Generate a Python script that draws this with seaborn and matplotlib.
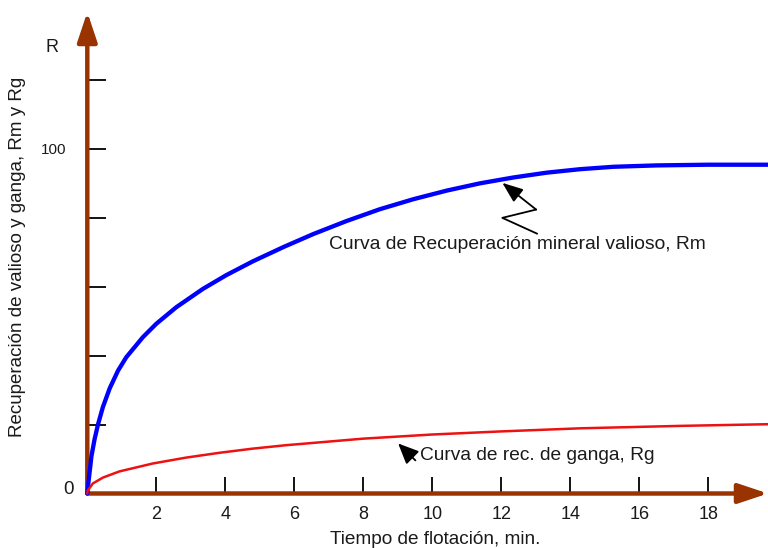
import numpy as np
import pandas as pd
import matplotlib
matplotlib.use("Agg")
import matplotlib.pyplot as plt
import seaborn as sns

# ---- data ----
t_rm = [0, 0.02, 0.12, 0.21, 0.31, 0.45, 0.65, 0.89, 1.13, 1.61, 2.0, 2.58, 3.35, 4.03, 4.8,
        5.7, 6.55, 7.52, 8.48, 9.45, 10.42, 11.38, 12.35, 13.32, 14.28, 15.25, 16.5, 18, 19.8]
rm   = [0, 2.1, 10.8, 15.7, 20, 25, 30.5, 35.6, 39.5, 45.3, 49.2, 54, 59.3, 63.3, 67.3,
        71.5, 75.2, 79.0, 82.4, 85.3, 87.8, 89.9, 91.6, 93.0, 94.0, 94.7, 95.1, 95.3, 95.3]
t_rg = [0, 0.01, 0.16, 0.45, 0.93, 1.9, 2.86, 3.83, 4.79, 5.76, 8, 10, 12, 14.3, 17.2, 19.8]
rg   = [0, 0.8, 2.9, 4.6, 6.4, 8.7, 10.4, 11.8, 13.0, 14.0, 15.9, 17.1, 18.0, 18.9, 19.6, 20.1]

x_ticks = [2, 4, 6, 8, 10, 12, 14, 16, 18]
y_ticks = [20, 40, 60, 80, 100, 120]
y_tick_labels = ["", "", "", "", "100", ""]

label_rm = "Curva de Recuperación mineral valioso, Rm"
label_rg = "Curva de rec. de ganga, Rg"
xlabel = "Tiempo de flotación, min."
ylabel = "Recuperación de valioso y ganga, Rm y Rg"

df_rm = pd.DataFrame({"t": t_rm, "R": rm})
df_rg = pd.DataFrame({"t": t_rg, "R": rg})

sns.set_theme(style="white")
plt.rcParams["font.family"] = ["Liberation Sans", "DejaVu Sans"]

W, H = 768, 548
fig = plt.figure(figsize=(W / 100, H / 100), dpi=100)
x0_px, y0_px, top_px = 87.3, 493.5, 12
ax = fig.add_axes([x0_px / W, (H - y0_px) / H, (W - x0_px) / W, (y0_px - top_px) / H])
ax.set_xlim(0, (W - x0_px) / 34.5)
ax.set_ylim(0, (y0_px - top_px) / 3.45)

brown = "#993300"
txt = "#1a1a1a"

sns.lineplot(data=df_rm, x="t", y="R", ax=ax, color="#0000ff", lw=3.1, legend=False, zorder=3)
sns.lineplot(data=df_rg, x="t", y="R", ax=ax, color="#ee1111", lw=1.8, legend=False, zorder=3)
for ln in ax.get_lines():
    ln.set_solid_joinstyle("round")
    ln.set_clip_on(False)

for s in ax.spines.values():
    s.set_visible(False)

# axis arrows
arrow_kw = dict(arrowstyle="-|>,head_length=0.9,head_width=0.3", lw=3.2, color=brown,
                shrinkA=0, shrinkB=0, mutation_scale=20)
ax.annotate("", xy=(0, 1), xytext=(0, 0), xycoords="axes fraction",
            arrowprops=arrow_kw, annotation_clip=False, zorder=2)
ax.annotate("", xy=(1, 0), xytext=(0, 0), xycoords="axes fraction",
            arrowprops=arrow_kw, annotation_clip=False, zorder=2)

ax.set_xticks(x_ticks)
ax.set_xticklabels([str(v) for v in x_ticks])
ax.set_yticks(y_ticks)
ax.set_yticklabels(y_tick_labels)
ax.tick_params(axis="x", direction="in", length=12, width=1.3, color="black", pad=9,
               labelsize=13, labelcolor=txt, bottom=True)
ax.tick_params(axis="y", direction="in", length=13.5, width=1.3, color="black", pad=15,
               labelsize=11, labelcolor=txt, left=True)
ax.set_xlabel("")
ax.set_ylabel("")

# axis texts
fig.text(68 / W, 1 - 489 / H, "0", fontsize=13.5, color=txt, ha="center", va="center")
fig.text(52 / W, 1 - 47 / H, "R", fontsize=13, color=txt, ha="center", va="center")
fig.text(435 / W, 1 - 540 / H, xlabel, fontsize=13.7, color=txt, ha="center", va="center")
fig.text(18 / W, 1 - 257 / H, ylabel, fontsize=13.5, color=txt, ha="center", va="center", rotation=90)

# annotations
tip_t = 12.03
tip_r = float(np.interp(tip_t, t_rm, rm))
ax.plot([13.04, 12.03, 13.01], [75.3, 79.9, 82.3], color="black", lw=1.3, zorder=4)
ax.annotate("", xy=(tip_t, tip_r - 1.0), xytext=(13.01, 82.3),
            arrowprops=dict(arrowstyle="-|>,head_length=0.9,head_width=0.35", lw=1.3, color="black",
                            shrinkA=0, shrinkB=0, mutation_scale=14), zorder=4)
ax.text(7.01, 72.1, label_rm, fontsize=13.9, color=txt, ha="left", va="center")

ax.annotate("", xy=(9.01, 14.5), xytext=(9.51, 9.6),
            arrowprops=dict(arrowstyle="-|>,head_length=0.9,head_width=0.4", lw=1.3, color="black",
                            shrinkA=0, shrinkB=0, mutation_scale=14), zorder=4)
ax.text(9.65, 11.0, label_rg, fontsize=13.8, color=txt, ha="left", va="center")

fig.savefig("out.png", dpi=100)
